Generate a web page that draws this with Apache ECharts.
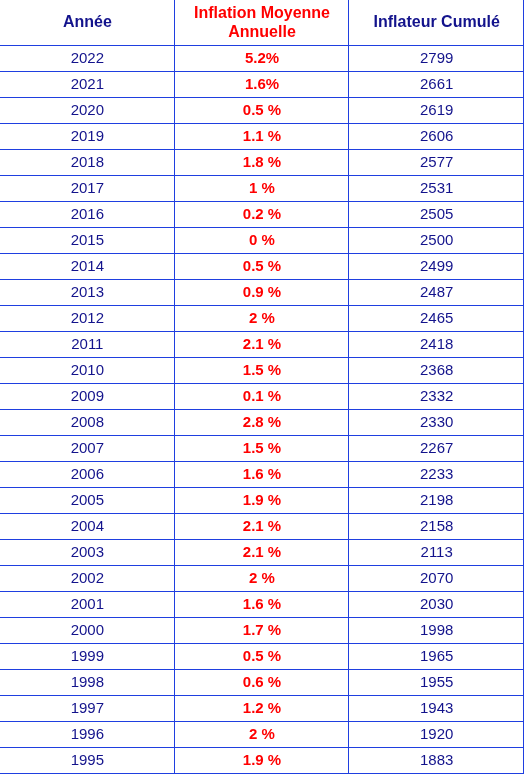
<!DOCTYPE html>
<html>
<head>
<meta charset="utf-8">
<script src="https://cdn.jsdelivr.net/npm/echarts@6/dist/echarts.min.js"></script>
<style>html,body{margin:0;padding:0;background:#fff}#chart{width:525px;height:776px}</style>
</head>
<body>
<div id="chart"></div>
<script>
var headers = ['Année', 'Inflation Moyenne\nAnnuelle', 'Inflateur Cumulé'];
var years = [2022, 2021, 2020, 2019, 2018, 2017, 2016, 2015, 2014, 2013, 2012, 2011, 2010, 2009,
             2008, 2007, 2006, 2005, 2004, 2003, 2002, 2001, 2000, 1999, 1998, 1997, 1996, 1995];
var inflation = ['5.2%', '1.6%', '0.5 %', '1.1 %', '1.8 %', '1 %', '0.2 %', '0 %', '0.5 %', '0.9 %',
                 '2 %', '2.1 %', '1.5 %', '0.1 %', '2.8 %', '1.5 %', '1.6 %', '1.9 %', '2.1 %', '2.1 %',
                 '2 %', '1.6 %', '1.7 %', '0.5 %', '0.6 %', '1.2 %', '2 %', '1.9 %'];
var cumul = [2799, 2661, 2619, 2606, 2577, 2531, 2505, 2500, 2499, 2487, 2465, 2418, 2368, 2332,
             2330, 2267, 2233, 2198, 2158, 2113, 2070, 2030, 1998, 1965, 1955, 1943, 1920, 1883];

var headH = 46 / 26; // header height in row units
var blue = '#13138c', red = '#ff0000', border = '#1f3fe0';

var cells = [];
headers.forEach(function (h, c) { cells.push([c, -1, h]); });
years.forEach(function (y, r) {
    cells.push([0, r, String(y)]);
    cells.push([1, r, inflation[r]]);
    cells.push([2, r, String(cumul[r])]);
});

function renderCell(params, api) {
    var c = api.value(0), r = api.value(1);
    var text = cells[params.dataIndex][2];
    var top = r < 0 ? 0 : headH + r;
    var bot = r < 0 ? headH : headH + r + 1;
    var p1 = api.coord([c, top]), p2 = api.coord([c + 1, bot]);
    var x1 = Math.round(p1[0]), y1 = Math.round(p1[1]);
    var x2 = Math.round(p2[0]) - 0.5, y2 = Math.round(p2[1]) - 0.5;
    var red1 = c === 1;
    var bold = r < 0 || red1;
    return {
        type: 'group',
        children: [
            { type: 'line', shape: { x1: x1, y1: y2, x2: x2 + 0.5, y2: y2 },
              style: { stroke: border, lineWidth: 1 } },
            { type: 'line', shape: { x1: x2, y1: y1, x2: x2, y2: y2 + 0.5 },
              style: { stroke: border, lineWidth: 1 } },
            { type: 'text', x: (p1[0] + p2[0]) / 2, y: (p1[1] + p2[1]) / 2,
              style: { text: text, fill: red1 ? red : blue, align: 'center', verticalAlign: 'middle',
                       font: (bold ? 'bold ' : '') + (r < 0 ? '16px' : '15px') + ' "Liberation Sans", Arial, sans-serif',
                       lineHeight: 19 } }
        ]
    };
}

var chart = echarts.init(document.getElementById('chart'));
chart.setOption({
    animation: false,
    grid: { left: 0, right: 1, top: 0, bottom: 2 },
    xAxis: { type: 'value', min: 0, max: 3, show: false },
    yAxis: { type: 'value', min: 0, max: headH + years.length, inverse: true, show: false },
    series: [{
        type: 'custom',
        renderItem: renderCell,
        data: cells.map(function (d) { return [d[0], d[1]]; })
    }]
});
</script>
</body>
</html>
